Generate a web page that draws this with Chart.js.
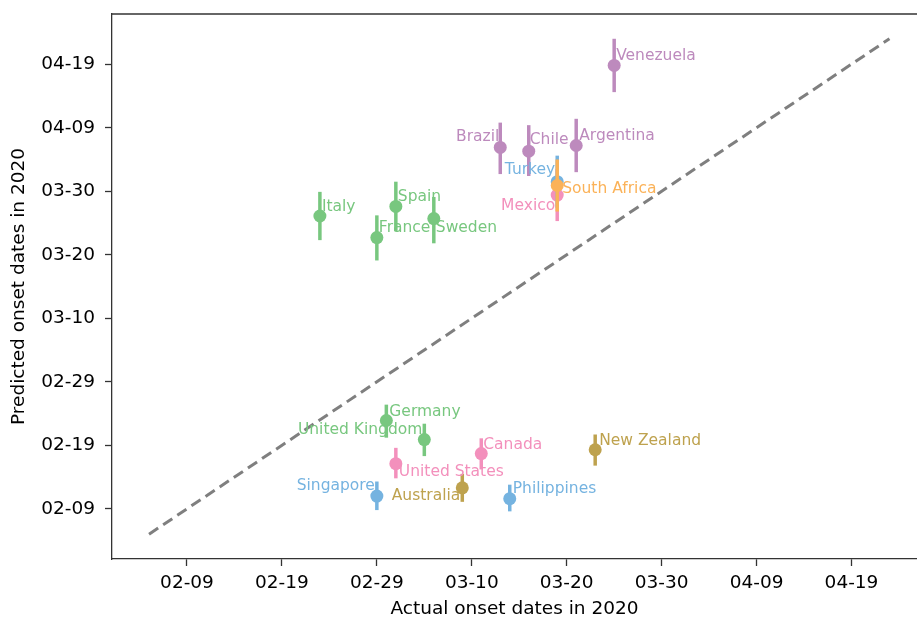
<!DOCTYPE html>
<html>
<head>
<meta charset="utf-8">
<script src="https://cdn.jsdelivr.net/npm/chart.js@4/dist/chart.umd.min.js"></script>
<style>
  html, body { margin: 0; padding: 0; background: #fff; overflow: hidden; }
  canvas { display: block; }
</style>
</head>
<body>
<canvas id="onset" width="917" height="621" style="width:917px;height:621px"></canvas>
<script>
// days counted from 2020-02-09
var countries = ['Venezuela', 'Brazil', 'Chile', 'Argentina', 'Turkey', 'South Africa', 'Mexico',
  'Italy', 'Spain', 'France', 'Sweden', 'Germany', 'United Kingdom', 'United States', 'Canada',
  'New Zealand', 'Australia', 'Singapore', 'Philippines'];
var regions = ['South America', 'South America', 'South America', 'South America', 'Asia', 'Africa', 'North America',
  'Europe', 'Europe', 'Europe', 'Europe', 'Europe', 'Europe', 'North America', 'North America',
  'Oceania', 'Oceania', 'Asia', 'Asia'];
var actualDay = [45, 33, 36, 41, 39, 39, 39, 14, 22, 20, 26, 21, 25, 22, 31, 43, 29, 20, 34];
var predictedDay = [69.8, 56.9, 56.3, 57.2, 51.5, 50.9, 49.4, 46.1, 47.6, 42.7, 45.7, 13.9, 10.9, 7.1, 8.7, 9.3, 3.3, 2.0, 1.6];
var predictedLow = [65.6, 52.7, 52.4, 53.0, 47.4, 46.8, 45.3, 42.3, 43.7, 39.1, 41.8, 11.2, 8.3, 4.8, 6.2, 6.8, 1.1, -0.2, -0.4];
var predictedHigh = [74.0, 60.8, 60.4, 61.4, 55.6, 55.0, 53.5, 49.9, 51.5, 46.2, 49.1, 16.4, 13.4, 9.6, 11.1, 11.7, 5.5, 4.3, 3.8];
var tickDays = [0, 10, 20, 30, 40, 50, 60, 70];
var tickLabels = ['02-09', '02-19', '02-29', '03-10', '03-20', '03-30', '04-09', '04-19'];
var diagonal = [-4, 74];

// colours per region (drawn bottom to top)
var regionOrder = ['South America', 'Europe', 'North America', 'Asia', 'Oceania', 'Africa'];
var regionColors = {
  'South America': '#bd8abd',
  'Europe': '#78c77f',
  'North America': '#f390bc',
  'Asia': '#75b3e0',
  'Oceania': '#bea24e',
  'Africa': '#fbb258'
};

// where each name sits next to its point [dx, dy, align]
var labelPlace = {
  'Venezuela': [2, -9, 'left'], 'Brazil': [-1, -10, 'right'], 'Chile': [1, -11, 'left'],
  'Argentina': [3, -10, 'left'], 'Turkey': [-2, -12, 'right'], 'South Africa': [5, 3, 'left'],
  'Mexico': [-2, 11, 'right'], 'Italy': [2, -9, 'left'], 'Spain': [2, -9, 'left'],
  'France': [2, -10, 'left'], 'Sweden': [2, 9, 'left'], 'Germany': [3, -9, 'left'],
  'United Kingdom': [-2, -10, 'right'], 'United States': [3, 8, 'left'], 'Canada': [2, -9, 'left'],
  'New Zealand': [4, -9, 'left'], 'Australia': [-2, 8, 'right'], 'Singapore': [-2, -10, 'right'],
  'Philippines': [3, -10, 'left']
};

var FONT = 'DejaVu Sans';
var AXIS = '#333333';

var datasets = [{
  type: 'line',
  data: diagonal.map(function(v) { return { x: v, y: v }; }),
  borderColor: '#7f7f7f',
  borderWidth: 3,
  borderDash: [11, 6],
  pointRadius: 0,
  order: 99
}];

regionOrder.forEach(function(reg, k) {
  var idx = [];
  countries.forEach(function(c, i) { if (regions[i] === reg) idx.push(i); });
  datasets.push({
    type: 'scatter',
    label: reg,
    idx: idx,
    data: idx.map(function(i) { return { x: actualDay[i], y: predictedDay[i] }; }),
    backgroundColor: regionColors[reg],
    borderWidth: 0,
    pointRadius: 6.5,
    order: regionOrder.length - k
  });
});

// vertical error bars under each group's markers, names on top
var errorBars = {
  id: 'errorBars',
  beforeDatasetDraw: function(chart, args) {
    var ds = chart.data.datasets[args.index];
    if (!ds.idx) return;
    var ctx = chart.ctx, xs = chart.scales.x, ys = chart.scales.y;
    ctx.save();
    ctx.strokeStyle = ds.backgroundColor;
    ctx.lineWidth = 3.5;
    ds.idx.forEach(function(i) {
      var px = xs.getPixelForValue(actualDay[i]);
      ctx.beginPath();
      ctx.moveTo(px, ys.getPixelForValue(predictedLow[i]));
      ctx.lineTo(px, ys.getPixelForValue(predictedHigh[i]));
      ctx.stroke();
    });
    ctx.restore();
  },
  afterDatasetsDraw: function(chart) {
    var ctx = chart.ctx, xs = chart.scales.x, ys = chart.scales.y;
    ctx.save();
    ctx.font = '15.5px "' + FONT + '"';
    ctx.textBaseline = 'middle';
    countries.forEach(function(c, i) {
      var p = labelPlace[c];
      ctx.fillStyle = regionColors[regions[i]];
      ctx.textAlign = p[2];
      ctx.fillText(c, xs.getPixelForValue(actualDay[i]) + p[0], ys.getPixelForValue(predictedDay[i]) + p[1]);
    });
    ctx.restore();
  },
  afterDraw: function(chart) {
    var ctx = chart.ctx, a = chart.chartArea;
    ctx.save();
    // plot is cut off at the right edge: no right spine
    ctx.fillStyle = '#fff';
    ctx.fillRect(a.right - 2, a.top, 3, a.bottom - a.top - 1);
    // top spine
    ctx.strokeStyle = AXIS;
    ctx.lineWidth = 1.3;
    ctx.beginPath();
    ctx.moveTo(a.left, a.top);
    ctx.lineTo(chart.width, a.top);
    ctx.stroke();
    ctx.restore();
  }
};

function setTicks(scale) {
  scale.ticks = tickDays.map(function(v) { return { value: v }; });
}
function fmtTick(v) {
  var k = tickDays.indexOf(v);
  return k >= 0 ? tickLabels[k] : '';
}

new Chart(document.getElementById('onset'), {
  data: { datasets: datasets },
  plugins: [errorBars],
  options: {
    responsive: false,
    animation: false,
    layout: { autoPadding: false, padding: { top: 14, right: 0, left: 0, bottom: 0 } },
    plugins: { legend: { display: false }, tooltip: { enabled: false } },
    scales: {
      x: {
        type: 'linear',
        min: -7.9,
        max: 76.9,
        afterBuildTicks: setTicks,
        afterFit: function(s) { s.height = 62; s.paddingLeft = 0; s.paddingRight = 0; },
        grid: { drawOnChartArea: false, tickLength: 7, tickWidth: 1.3, tickColor: AXIS },
        border: { color: AXIS, width: 1.3 },
        ticks: { callback: fmtTick, color: '#000', padding: 6, maxRotation: 0, font: { family: FONT, size: 18.5 } },
        title: { display: true, text: 'Actual onset dates in 2020', color: '#000',
          padding: { top: 0, bottom: 1 }, font: { family: FONT, size: 18.5 } }
      },
      y: {
        type: 'linear',
        min: -7.9,
        max: 77.9,
        afterBuildTicks: setTicks,
        afterFit: function(s) { s.width = 112; s.paddingTop = 0; s.paddingBottom = 0; },
        grid: { drawOnChartArea: false, tickLength: 7, tickWidth: 1.3, tickColor: AXIS },
        border: { color: AXIS, width: 1.3 },
        ticks: { callback: fmtTick, color: '#000', padding: 10, font: { family: FONT, size: 18.5 } },
        title: { display: true, text: 'Predicted onset dates in 2020', color: '#000',
          padding: { top: 8, bottom: 0 }, font: { family: FONT, size: 18.5 } }
      }
    }
  }
});
</script>
</body>
</html>
